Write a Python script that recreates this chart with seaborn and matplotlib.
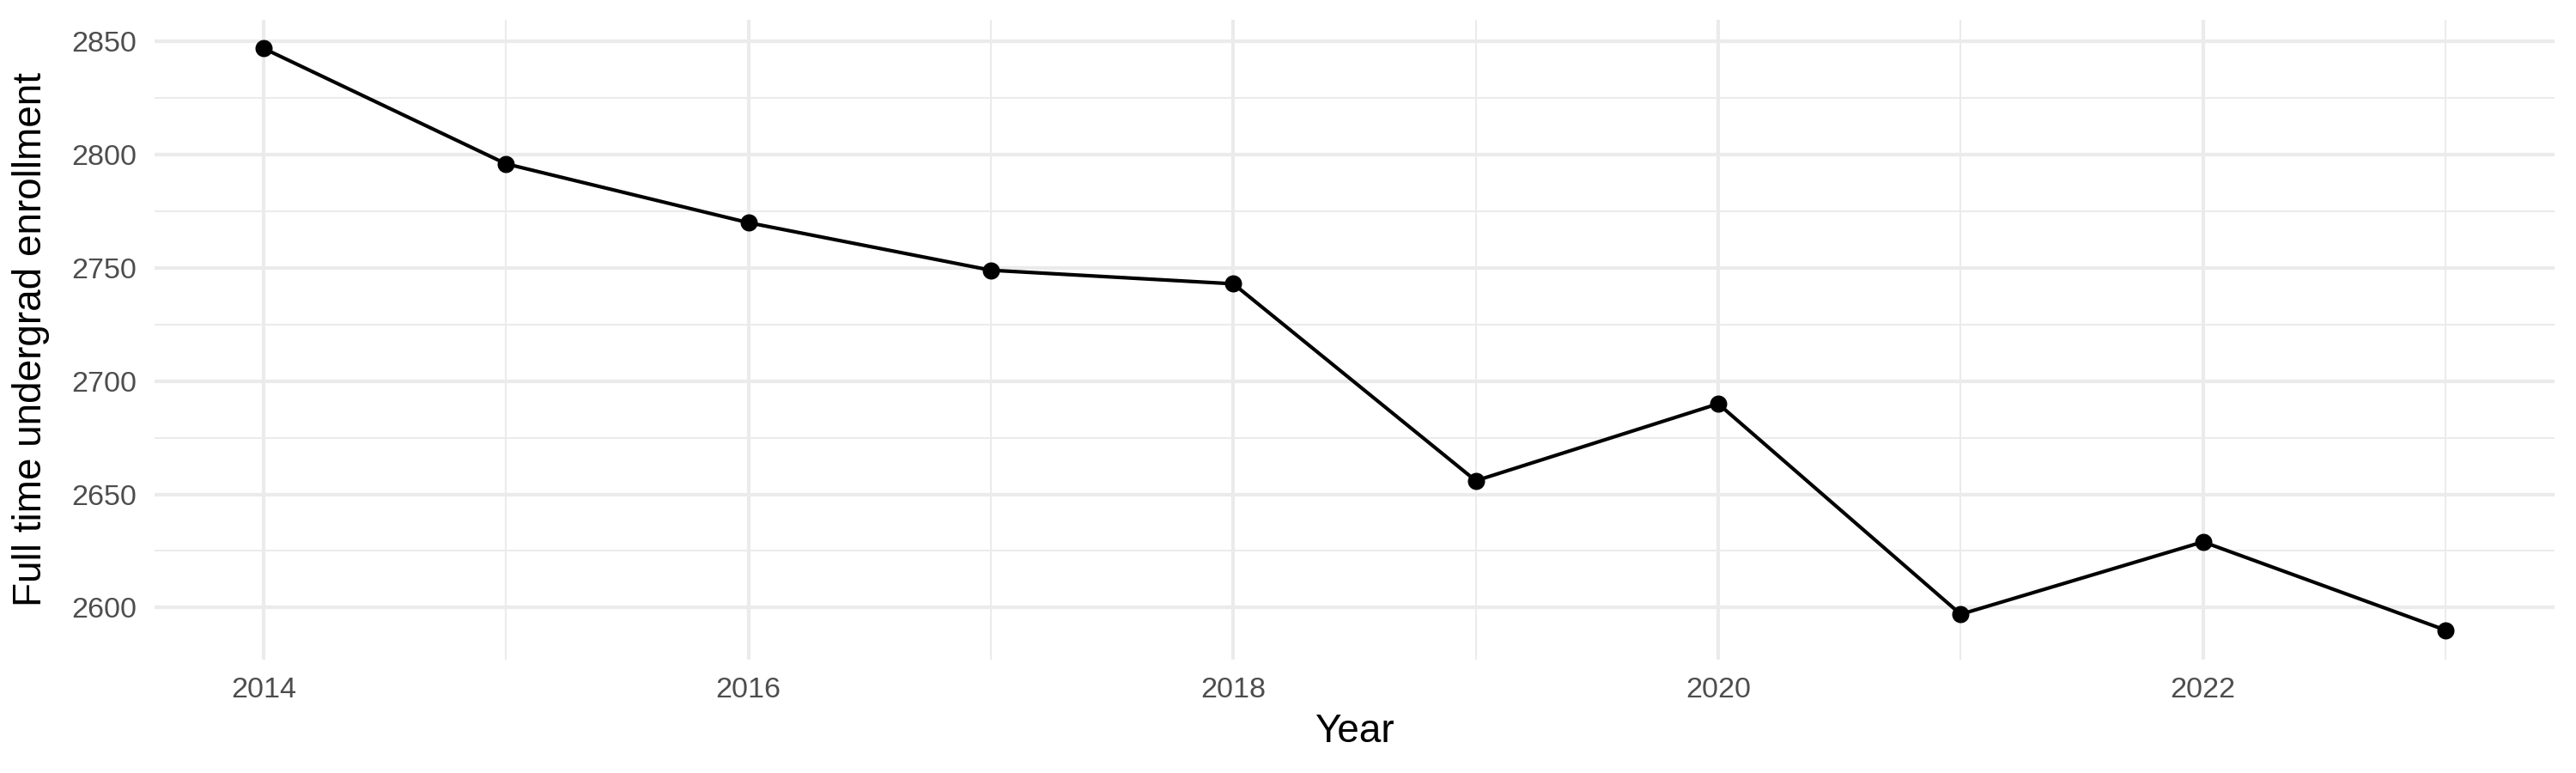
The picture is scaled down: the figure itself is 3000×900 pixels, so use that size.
import pandas as pd
import matplotlib
matplotlib.use("Agg")
import matplotlib.pyplot as plt
from matplotlib.ticker import MultipleLocator
import seaborn as sns

# enrollment per year
years = [2014, 2015, 2016, 2017, 2018, 2019, 2020, 2021, 2022, 2023]
enrollment = [2847, 2796, 2770, 2749, 2743, 2656, 2690, 2597, 2629, 2590]

df = pd.DataFrame({"Year": years, "Enrollment": enrollment})

sns.set_theme(style="white")
plt.rcParams["font.family"] = ["Liberation Sans", "DejaVu Sans"]

fig = plt.figure(figsize=(10, 3), dpi=300)
ax = fig.add_axes([0.06, 0.1472, 0.9317, 0.8278])

sns.lineplot(data=df, x="Year", y="Enrollment", ax=ax, color="black",
             linewidth=1.0, marker="o", markersize=4.8,
             markeredgewidth=0, zorder=3)

# ggplot-like 5% expansion
xr = max(years) - min(years)
yr = max(enrollment) - min(enrollment)
ax.set_xlim(min(years) - 0.05 * xr, max(years) + 0.05 * xr)
ax.set_ylim(min(enrollment) - 0.05 * yr, max(enrollment) + 0.05 * yr)

ax.xaxis.set_major_locator(MultipleLocator(2))
ax.xaxis.set_minor_locator(MultipleLocator(1))
ax.yaxis.set_major_locator(MultipleLocator(50))
ax.yaxis.set_minor_locator(MultipleLocator(25))

ax.grid(which="major", color="#EBEBEB", linewidth=1.0)
ax.grid(which="minor", color="#EBEBEB", linewidth=0.5)
ax.set_axisbelow(True)
for s in ax.spines.values():
    s.set_visible(False)

ax.tick_params(which="both", length=0, labelsize=8.2, labelcolor="#4D4D4D", pad=5)

ax.set_xlabel("Year", fontsize=11, color="black", va="center")
ax.set_ylabel("Full time undergrad enrollment", fontsize=11, color="black", va="center")
ax.xaxis.set_label_coords(0.5, -0.113)
ax.yaxis.set_label_coords(-0.0515, 0.5)

fig.savefig("out.png", dpi=300)
